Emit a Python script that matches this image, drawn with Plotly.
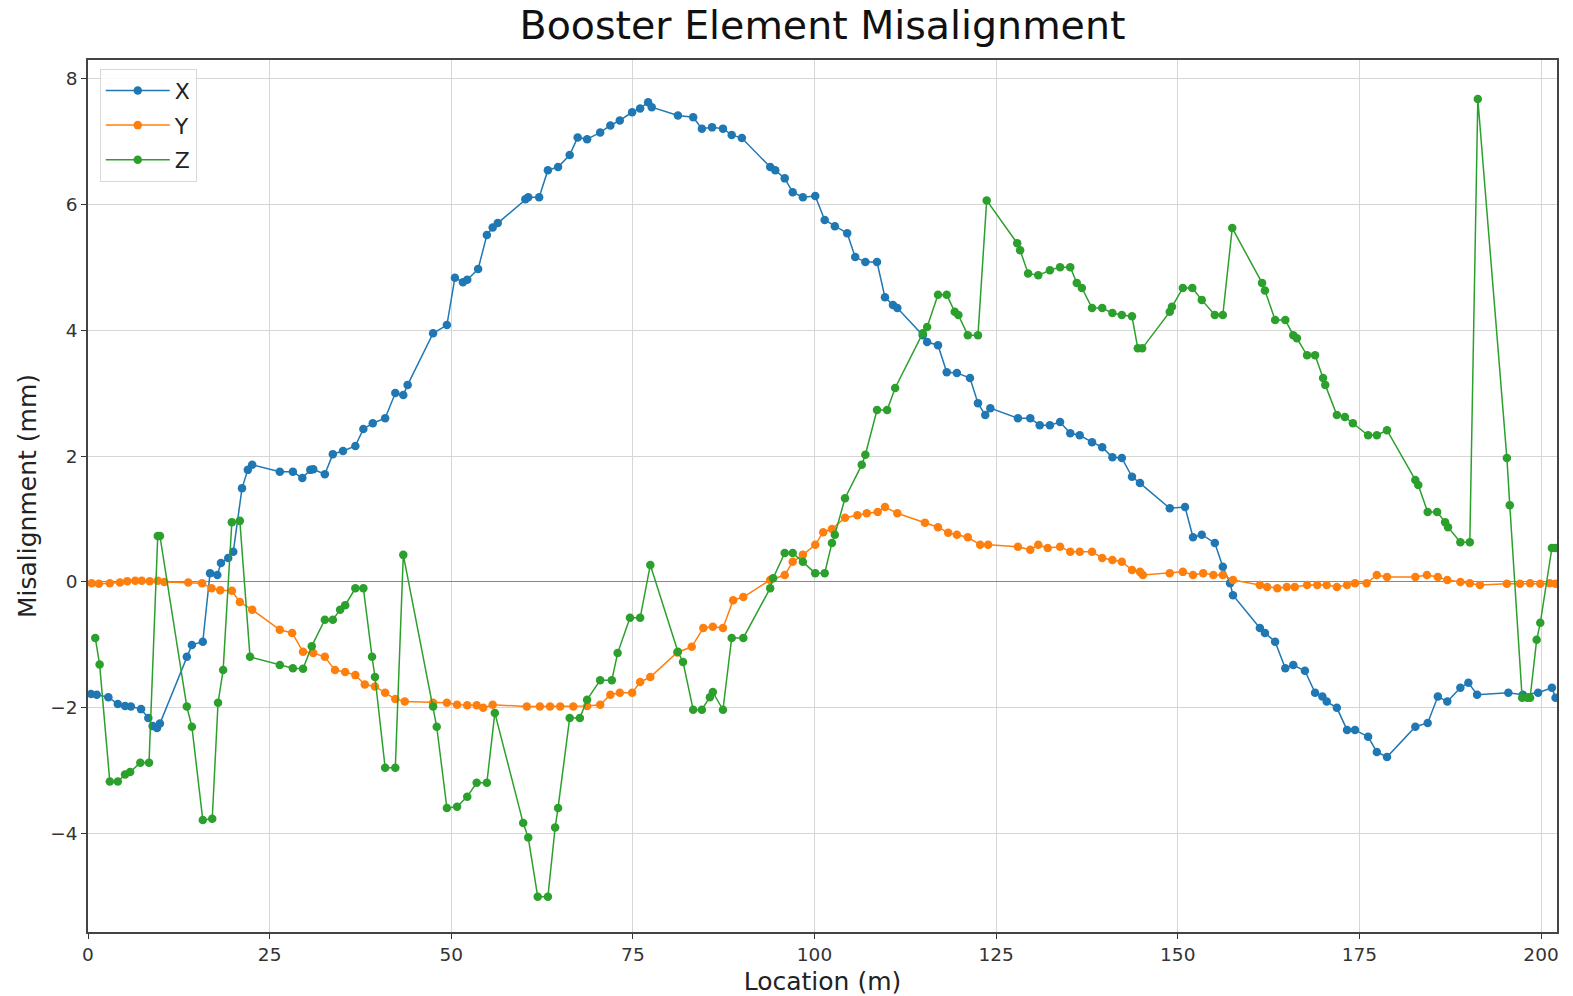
import plotly.graph_objects as go

# ---- data ----
x_loc = [0.4,1.2,2.8,4.1,5.1,5.9,7.3,8.3,8.9,9.5,9.9,13.6,14.3,15.8,16.8,17.8,18.3,19.3,20.0,21.2,22.0,22.6,26.4,28.2,29.5,30.6,31.0,32.6,33.7,35.1,36.8,37.9,39.2,40.9,42.3,43.4,44.0,47.5,49.4,50.5,51.6,52.2,53.7,54.9,55.7,56.4,60.2,60.6,62.1,63.3,64.7,66.3,67.4,68.7,70.5,71.9,73.2,74.9,76.0,77.1,77.6,81.2,83.3,84.5,85.9,87.4,88.6,90.0,93.9,94.6,95.9,97.0,98.4,100.1,101.4,102.8,104.5,105.6,107.0,108.6,109.7,110.8,111.4,114.9,115.5,117.0,118.2,119.6,121.4,122.5,123.5,124.2,128.0,129.7,131.0,132.4,133.8,135.2,136.5,138.2,139.6,141.0,142.3,143.7,144.8,148.9,151.0,152.1,153.3,155.1,156.2,157.2,157.6,161.3,162.0,163.4,164.8,165.9,167.5,168.9,169.9,170.5,171.9,173.3,174.4,176.2,177.4,178.8,182.7,184.4,185.8,187.1,188.9,190.0,191.2,195.5,197.5,199.6,201.5,202.0]
x_val = [-1.78,-1.79,-1.83,-1.94,-1.97,-1.98,-2.02,-2.16,-2.29,-2.32,-2.25,-1.19,-1.0,-0.95,0.14,0.11,0.3,0.38,0.48,1.49,1.78,1.86,1.75,1.75,1.65,1.78,1.79,1.71,2.03,2.08,2.16,2.43,2.52,2.6,3.0,2.97,3.13,3.95,4.08,4.83,4.76,4.80,4.97,5.51,5.63,5.70,6.08,6.11,6.11,6.54,6.59,6.78,7.06,7.03,7.14,7.25,7.33,7.46,7.52,7.62,7.54,7.41,7.38,7.2,7.22,7.2,7.1,7.05,6.59,6.54,6.41,6.19,6.11,6.13,5.75,5.65,5.54,5.16,5.08,5.08,4.52,4.40,4.35,3.92,3.81,3.76,3.33,3.32,3.24,2.84,2.65,2.76,2.60,2.60,2.49,2.49,2.54,2.36,2.33,2.22,2.14,1.98,1.97,1.67,1.57,1.17,1.19,0.71,0.75,0.62,0.24,-0.02,-0.21,-0.73,-0.81,-0.95,-1.37,-1.32,-1.41,-1.76,-1.82,-1.90,-2.0,-2.35,-2.35,-2.46,-2.70,-2.78,-2.30,-2.24,-1.82,-1.90,-1.68,-1.60,-1.79,-1.76,-1.79,-1.76,-1.68,-1.84]

y_loc = [0.5,1.5,3.0,4.4,5.4,6.5,7.4,8.5,9.6,10.5,13.8,15.7,17.0,18.2,19.8,20.9,22.6,26.4,28.1,29.6,31.0,32.6,34.0,35.4,36.8,38.1,39.5,40.9,42.3,43.6,47.5,49.4,50.8,52.2,53.5,54.4,55.7,60.4,62.2,63.6,65.0,66.8,68.7,70.5,71.9,73.2,74.9,76.0,77.4,81.1,83.1,84.7,86.0,87.4,88.8,90.2,93.9,95.9,97.0,98.4,100.1,101.2,102.4,104.2,105.9,107.2,108.7,109.7,111.4,115.2,117.0,118.4,119.6,121.1,122.8,123.9,128.0,129.7,130.8,132.1,133.8,135.2,136.5,138.2,139.6,141.0,142.3,143.7,144.8,145.2,148.9,150.7,152.1,153.5,154.9,156.2,157.6,161.3,162.3,163.7,165.0,166.1,167.8,169.2,170.5,171.9,173.3,174.4,176.0,177.4,178.8,182.7,184.3,185.8,187.1,188.9,190.2,191.6,195.3,197.1,198.5,199.9,201.2,202.0]
y_val = [-0.02,-0.03,-0.02,-0.01,0.01,0.02,0.02,0.01,0.02,0.0,-0.01,-0.02,-0.1,-0.13,-0.14,-0.32,-0.44,-0.76,-0.81,-1.11,-1.13,-1.19,-1.4,-1.43,-1.48,-1.63,-1.66,-1.76,-1.86,-1.9,-1.92,-1.92,-1.95,-1.96,-1.96,-2.0,-1.95,-1.98,-1.98,-1.98,-1.98,-1.98,-1.97,-1.95,-1.79,-1.76,-1.76,-1.59,-1.51,-1.12,-1.03,-0.73,-0.71,-0.73,-0.29,-0.24,0.03,0.11,0.32,0.43,0.59,0.79,0.84,1.02,1.06,1.09,1.11,1.19,1.09,0.94,0.87,0.78,0.75,0.71,0.59,0.59,0.56,0.51,0.59,0.54,0.56,0.48,0.48,0.48,0.38,0.35,0.32,0.19,0.16,0.11,0.14,0.16,0.11,0.14,0.11,0.11,0.03,-0.05,-0.08,-0.1,-0.08,-0.08,-0.05,-0.05,-0.05,-0.08,-0.05,-0.02,-0.02,0.11,0.08,0.08,0.11,0.08,0.03,0.0,-0.02,-0.05,-0.03,-0.03,-0.02,-0.03,-0.02,-0.03]

z_loc = [1.0,1.6,3.0,4.1,5.1,5.8,7.2,8.4,9.6,9.9,13.6,14.3,15.8,17.1,17.9,18.6,19.8,20.9,22.3,26.4,28.2,29.6,30.8,32.6,33.7,34.7,35.4,36.8,37.9,39.1,39.5,40.9,42.3,43.4,47.5,48.0,49.4,50.8,52.2,53.5,54.9,56.0,59.9,60.6,61.9,63.3,64.3,64.7,66.3,67.7,68.7,70.5,72.1,72.9,74.6,76.0,77.4,81.2,81.9,83.3,84.5,85.6,86.0,87.4,88.6,90.2,93.9,94.3,95.9,97.0,98.4,100.1,101.4,102.4,102.8,104.2,106.5,107.0,108.6,110.0,111.1,114.9,115.5,117.0,118.2,119.3,119.8,121.1,122.5,123.7,127.9,128.3,129.4,130.8,132.4,133.8,135.2,136.1,136.8,138.2,139.6,141.0,142.3,143.7,144.5,145.1,148.9,149.2,150.7,152.0,153.3,155.1,156.2,157.5,161.6,162.0,163.4,164.8,165.9,166.4,167.8,168.9,170.0,170.3,171.9,173.0,174.1,176.2,177.4,178.8,182.7,183.1,184.4,185.7,186.8,187.2,188.9,190.2,191.3,195.3,195.7,197.4,198.1,198.5,199.4,199.9,201.5,202.0]
z_val = [-0.89,-1.31,-3.17,-3.17,-3.06,-3.02,-2.87,-2.87,0.73,0.73,-1.98,-2.30,-3.78,-3.76,-1.92,-1.40,0.95,0.97,-1.19,-1.32,-1.37,-1.38,-1.02,-0.6,-0.6,-0.44,-0.37,-0.1,-0.1,-1.19,-1.51,-2.95,-2.95,0.43,-1.98,-2.30,-3.59,-3.57,-3.41,-3.19,-3.19,-2.08,-3.83,-4.06,-5.0,-5.0,-3.9,-3.59,-2.16,-2.16,-1.87,-1.56,-1.56,-1.13,-0.57,-0.57,0.27,-1.11,-1.27,-2.03,-2.03,-1.83,-1.75,-2.03,-0.89,-0.89,-0.1,0.06,0.46,0.46,0.32,0.14,0.14,0.62,0.75,1.33,1.86,2.02,2.73,2.73,3.08,3.95,4.05,4.56,4.56,4.29,4.24,3.92,3.92,6.06,5.38,5.27,4.90,4.87,4.95,5.0,5.0,4.75,4.67,4.35,4.35,4.27,4.24,4.22,3.71,3.71,4.29,4.37,4.67,4.67,4.48,4.24,4.24,5.62,4.75,4.63,4.16,4.16,3.92,3.87,3.6,3.6,3.24,3.13,2.65,2.62,2.52,2.33,2.33,2.41,1.62,1.54,1.11,1.11,0.95,0.87,0.63,0.63,7.67,1.97,1.22,-1.84,-1.84,-1.84,-0.92,-0.65,0.54,0.54]

series_names = ["X", "Y", "Z"]
series_colors = ["#1f77b4", "#ff7f0e", "#2ca02c"]
x_ticks = [0, 25, 50, 75, 100, 125, 150, 175, 200]
y_ticks = [-4, -2, 0, 2, 4, 6, 8]

FONT = "DejaVu Sans"

fig = go.Figure()
for name, xs, ys, col in zip(series_names, [x_loc, y_loc, z_loc], [x_val, y_val, z_val], series_colors):
    fig.add_trace(go.Scatter(
        x=xs, y=ys, name=name, legendgroup=name, mode="lines+markers",
        line=dict(color=col, width=1.5),
        marker=dict(color=col, size=8.5),
    ))

fig.update_layout(
    width=1573, height=996,
    margin=dict(l=88, r=16, t=60, b=64),
    paper_bgcolor="white", plot_bgcolor="white",
    font=dict(family=FONT, color="#222"),
    title=dict(text="Booster Element Misalignment", x=0.5, xref="paper",
               y=1 - 25 / 996, yanchor="middle",
               font=dict(size=39.5, family=FONT, color="#111")),
    legend=dict(x=0.008, y=0.99, xanchor="left", yanchor="top",
                font=dict(size=22, family=FONT, color="#222"),
                itemwidth=64, tracegroupgap=3,
                bgcolor="rgba(255,255,255,0.85)", bordercolor="#d8d8d8", borderwidth=1),
    showlegend=True,
)
fig.update_xaxes(
    range=[0, 202.2], tickvals=x_ticks, ticks="outside", ticklen=5, tickcolor="#333",
    tickfont=dict(size=18.5, family=FONT, color="#333"),
    showgrid=True, gridcolor="#d6d6d6", gridwidth=1, automargin=False,
    showline=True, linecolor="#444", linewidth=1.5, mirror=True, zeroline=False,
    title=dict(text="Location (m)", font=dict(size=25, family=FONT, color="#222")),
)
fig.update_yaxes(
    range=[-5.56, 8.29], tickvals=y_ticks, ticks="outside", ticklen=5, tickcolor="#333",
    tickfont=dict(size=18.5, family=FONT, color="#333"),
    showgrid=True, gridcolor="#d6d6d6", gridwidth=1, automargin=False,
    showline=True, linecolor="#444", linewidth=1.5, mirror=True,
    zeroline=True, zerolinecolor="#888", zerolinewidth=1.2,
    title=dict(text="Misalignment (mm)", font=dict(size=25, family=FONT, color="#222"), standoff=7),
)

fig.write_html("out.html", config={"displayModeBar": False},
               post_script="document.body.style.margin='0px';")
